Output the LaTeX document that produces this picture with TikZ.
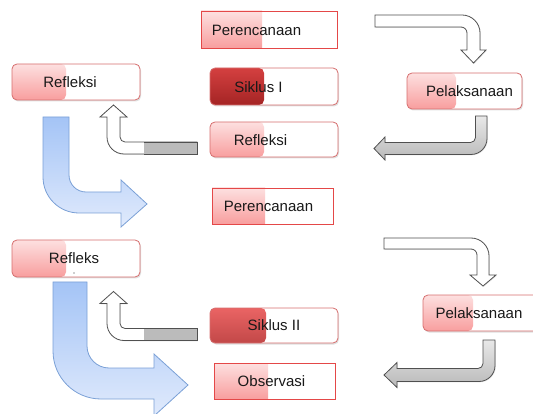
\documentclass[tikz,border=0pt]{standalone}
\usepackage{fontspec}
\setmainfont{Liberation Sans}
\usetikzlibrary{shadows}

\definecolor{pinktop}{RGB}{253,224,224}
\definecolor{pinkbot}{RGB}{248,158,158}
\definecolor{redtop}{RGB}{212,64,64}
\definecolor{redbot}{RGB}{164,36,36}
\definecolor{redtopb}{RGB}{234,100,100}
\definecolor{redbotb}{RGB}{194,72,72}
\definecolor{boxline}{RGB}{214,110,110}
\definecolor{sharpline}{RGB}{228,72,72}
\definecolor{bluetop}{RGB}{164,196,246}
\definecolor{bluebot}{RGB}{224,234,252}
\definecolor{blueline}{RGB}{122,160,214}
\definecolor{arrowline}{RGB}{80,80,80}

\begin{document}
\begin{tikzpicture}[x=1pt, y=-1pt,
    rbox/.style={draw=boxline, fill=white, rounded corners=5pt, line width=0.8pt, inner sep=0pt,
      drop shadow={shadow xshift=1pt, shadow yshift=-1.5pt, opacity=0.25}},
    sbox/.style={draw=sharpline, fill=white, line width=0.9pt, inner sep=0pt},
    pinkpart/.style={path picture={\shade[top color=pinktop, bottom color=pinkbot]
      (path picture bounding box.north west) rectangle ([xshift=#1]path picture bounding box.south west);}},
    redpart/.style={path picture={\shade[top color=redtop, bottom color=redbot]
      (path picture bounding box.north west) rectangle ([xshift=#1]path picture bounding box.south west);}},
    redpartb/.style={path picture={\shade[top color=redtopb, bottom color=redbotb]
      (path picture bounding box.north west) rectangle ([xshift=#1]path picture bounding box.south west);}},
    lbl/.style={font=\fontsize{15}{18}\selectfont, text=black!90, inner sep=0pt},
    whitearrow/.style={draw=arrowline, fill=white, line width=0.8pt,
      drop shadow={shadow xshift=0.8pt, shadow yshift=-0.8pt, opacity=0.2}},
    grayarrow/.style={draw=arrowline, top color=gray!18, bottom color=gray!55, line width=0.8pt,
      drop shadow={shadow xshift=0.8pt, shadow yshift=-0.8pt, opacity=0.2}},
    bluearrow/.style={draw=blueline, top color=bluetop, bottom color=bluebot, line width=0.8pt}]
  \useasboundingbox (0,0) rectangle (533,414);

  % cycle one
  \node[sbox, minimum width=136, minimum height=37, pinkpart=61pt] (plan1) at (269,29.5) {};
  \node[lbl] (plan1t) at (256.5,30) {Perencanaan};
  \node[rbox, minimum width=128, minimum height=36, pinkpart=54pt] (refl1) at (76,82) {};
  \node[lbl] (refl1t) at (70,82) {Refleksi};
  \node[rbox, minimum width=128, minimum height=37, redpart=54pt] (cyc1) at (274,86.5) {};
  \node[lbl] (cyc1t) at (258.5,87) {Siklus I};
  \node[rbox, minimum width=115, minimum height=36, pinkpart=49pt] (exec1) at (464.5,91) {};
  \node[lbl] (exec1t) at (469.5,91) {Pelaksanaan};
  \node[rbox, minimum width=128, minimum height=35, pinkpart=54pt] (refl2) at (274,139.5) {};
  \node[lbl] (refl2t) at (260.5,140) {Refleksi};
  \node[sbox, minimum width=121, minimum height=36, pinkpart=53pt] (plan2) at (272.5,206) {};
  \node[lbl] (plan2t) at (268.5,206) {Perencanaan};

  % cycle two
  \node[rbox, minimum width=128, minimum height=37, pinkpart=54pt] (refl3) at (76,258.5) {};
  \node[lbl] (refl3t) at (74,258) {Refleks};
  \fill[black!80] (74,273) circle (0.7);
  \node[rbox, minimum width=128, minimum height=35, redpartb=56pt] (cyc2) at (274,325.5) {};
  \node[lbl] (cyc2t) at (274,325) {Siklus II};
  \node[rbox, minimum width=115, minimum height=36, pinkpart=50pt] (exec2) at (480.5,313) {};
  \node[lbl] (exec2t) at (479,313) {Pelaksanaan};
  \node[sbox, minimum width=121, minimum height=36, pinkpart=54pt] (obs) at (274.5,381) {};
  \node[lbl] (obst) at (271.5,381) {Observasi};

  % bent arrows, cycle one
  \draw[whitearrow] (375,15) -- (462,15) .. controls (471.94,15) and (480,23.06) .. (480,33)
    -- (480,50) -- (486,50) -- (473.5,63) -- (461,50) -- (467,50) -- (467,33)
    .. controls (467,29.69) and (464.31,27) .. (461,27) -- (375,27) -- cycle;
  \draw[grayarrow] (475.5,116) -- (487,116) -- (487,138.5) .. controls (487,147.33) and (479.83,154.5) .. (471,154.5)
    -- (385,154.5) -- (385,160) -- (374,148.5) -- (385,137) -- (385,142.5) -- (470.5,142.5)
    .. controls (473.26,142.5) and (475.5,140.26) .. (475.5,137.5) -- cycle;
  \draw[whitearrow] (197,142) -- (125,142) .. controls (122.24,142) and (120,139.76) .. (120,137)
    -- (120,117) -- (127,117) -- (113.5,105) -- (100,117) -- (107,117) -- (107,137)
    .. controls (107,146.4) and (114.6,154) .. (124,154) -- (197,154) -- cycle;
  \fill[gray!53] (144,142) rectangle (197,154);
  \draw[arrowline, line width=0.8pt] (144,142) -- (197,142) -- (197,154) -- (144,154);
  \draw[bluearrow] (43,117) -- (69,117) -- (69,175) .. controls (69,184.4) and (76.6,192) .. (86,192)
    -- (121,192) -- (121,180) -- (147,204) -- (121,227) -- (121,213) -- (79,213)
    .. controls (59.1,213) and (43,196.9) .. (43,177) -- cycle;

  % bent arrows, cycle two
  \draw[whitearrow] (384,238) -- (471,238) .. controls (480.94,238) and (489,246.06) .. (489,256)
    -- (489,275) -- (496,275) -- (483,286) -- (470,275) -- (477,275) -- (477,255)
    .. controls (477,251.69) and (474.31,249) .. (471,249) -- (384,249) -- cycle;
  \draw[grayarrow] (483,340) -- (495,340) -- (495,365.5) .. controls (495,374.33) and (487.83,381.5) .. (479,381.5)
    -- (397,381.5) -- (397,387.5) -- (384,375) -- (397,362.5) -- (397,368.5) -- (478,368.5)
    .. controls (480.76,368.5) and (483,366.26) .. (483,363.5) -- cycle;
  \draw[whitearrow] (197,328.5) -- (125,328.5) .. controls (122.24,328.5) and (120,326.26) .. (120,323.5)
    -- (120,303.5) -- (127,303.5) -- (113.5,291.5) -- (100,303.5) -- (107,303.5) -- (107,323.5)
    .. controls (107,332.9) and (114.6,340.5) .. (124,340.5) -- (197,340.5) -- cycle;
  \fill[gray!53] (144,328.5) rectangle (197,340.5);
  \draw[arrowline, line width=0.8pt] (144,328.5) -- (197,328.5) -- (197,340.5) -- (144,340.5);
  \draw[bluearrow] (53,282) -- (87,282) -- (87,346) .. controls (87,358.1) and (96.9,368) .. (109,368)
    -- (154,368) -- (154,354) -- (188,385) -- (154,416) -- (154,399) -- (101,399)
    .. controls (74.5,399) and (53,377.5) .. (53,351) -- cycle;
\end{tikzpicture}
\end{document}
